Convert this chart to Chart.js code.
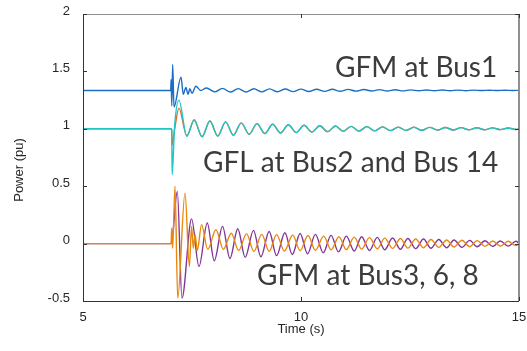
<!DOCTYPE html>
<html>
<head>
<meta charset="utf-8">
<script src="https://cdn.jsdelivr.net/npm/chart.js@4.4.0/dist/chart.umd.min.js"></script>
<style>
  html, body { margin: 0; padding: 0; background: #fff; }
  #wrap { width: 527px; height: 351px; }
</style>
</head>
<body>
<div id="wrap"><canvas id="powerChart" width="527" height="351"></canvas></div>
<script>
// time axis (s) and power axis (pu) ticks
const xTicks = [5, 10, 15];
const yTicks = [-0.5, 0, 0.5, 1, 1.5, 2];

// [time s, power pu] samples at each swing peak/trough
const bus1 = [
  [5, 1.333], [7.01, 1.333], [7.022, 1.43], [7.036, 1.20], [7.057, 1.56], [7.087, 1.19],
  [7.248, 1.45], [7.30, 1.30], [7.36, 1.36], [7.41, 1.30], [7.45, 1.35], [7.50, 1.31],
  [7.59, 1.37], [7.70, 1.333], [7.83, 1.356],
  [8.02, 1.322], [8.20, 1.352], [8.38, 1.320], [8.56, 1.350], [8.74, 1.321], [8.92, 1.349],
  [9.10, 1.322], [9.28, 1.348], [9.46, 1.323], [9.64, 1.347], [9.82, 1.324], [10.00, 1.346],
  [10.18, 1.325], [10.36, 1.345], [10.54, 1.326], [10.72, 1.344], [10.90, 1.327], [11.08, 1.343],
  [11.26, 1.328], [11.44, 1.342], [11.62, 1.329], [11.80, 1.341], [11.98, 1.329], [12.16, 1.340],
  [12.34, 1.330], [12.52, 1.339], [12.70, 1.331], [12.88, 1.338], [13.06, 1.331], [13.24, 1.338],
  [13.42, 1.332], [13.60, 1.337], [13.78, 1.332], [13.96, 1.337], [14.14, 1.333], [14.32, 1.336],
  [14.50, 1.333], [14.68, 1.336], [14.86, 1.334], [15, 1.335]
];

// GFL units share the same slow swing after the first half second
const gflTail = [
  [7.91, 1.068], [8.09, 0.937], [8.27, 1.060], [8.45, 0.944], [8.63, 1.052], [8.81, 0.952],
  [8.99, 1.045], [9.17, 0.958], [9.35, 1.040], [9.53, 0.963], [9.71, 1.035], [9.89, 0.967],
  [10.07, 1.031], [10.25, 0.971], [10.43, 1.027], [10.61, 0.975], [10.79, 1.024], [10.97, 0.978],
  [11.15, 1.021], [11.33, 0.980], [11.51, 1.019], [11.69, 0.982], [11.87, 1.017], [12.05, 0.984],
  [12.23, 1.015], [12.41, 0.986], [12.59, 1.013], [12.77, 0.987], [12.95, 1.012], [13.13, 0.989],
  [13.31, 1.011], [13.49, 0.990], [13.67, 1.010], [13.85, 0.991], [14.03, 1.009], [14.21, 0.992],
  [14.39, 1.008], [14.57, 0.993], [14.75, 1.007], [14.93, 0.994], [15, 1.0]
];
const bus2 = [
  [5, 1], [7.02, 1], [7.034, 0.99], [7.045, 0.86], [7.10, 0.99], [7.20, 1.18],
  [7.38, 0.94], [7.55, 1.075], [7.73, 0.932]
].concat(gflTail);
const bus14 = [
  [5, 1], [7.02, 1], [7.034, 0.99], [7.045, 0.60], [7.10, 1.02], [7.20, 1.25],
  [7.38, 0.935], [7.55, 1.08], [7.73, 0.93]
].concat(gflTail);

const bus3 = [
  [5, 0], [7.02, 0], [7.05, 0.05], [7.163, 0.455], [7.27, -0.475], [7.49, 0.215],
  [7.66, -0.20], [7.85, 0.18], [8.01, -0.15], [8.20, 0.15], [8.37, -0.13], [8.55, 0.13],
  [8.72, -0.12], [8.91, 0.115], [9.08, -0.115], [9.27, 0.105], [9.44, -0.105], [9.63, 0.095],
  [9.80, -0.095], [9.98, 0.088], [10.15, -0.088], [10.33, 0.08], [10.51, -0.08], [10.69, 0.072],
  [10.86, -0.072], [11.04, 0.065], [11.22, -0.065], [11.39, 0.06], [11.57, -0.06], [11.75, 0.054],
  [11.92, -0.054], [12.10, 0.049], [12.28, -0.049], [12.45, 0.044], [12.63, -0.044], [12.81, 0.04],
  [12.98, -0.04], [13.16, 0.036], [13.34, -0.036], [13.51, 0.032], [13.69, -0.032], [13.87, 0.028],
  [14.04, -0.028], [14.22, 0.025], [14.40, -0.025], [14.57, 0.022], [14.75, -0.022], [14.93, 0.02],
  [15, 0.005]
];

const bus8 = [
  [5, 0], [7.02, 0], [7.034, 0.135], [7.057, -0.04], [7.11, 0.50], [7.172, -0.475],
  [7.34, 0.44], [7.44, -0.20], [7.49, 0.15], [7.53, -0.04], [7.57, 0.08], [7.62, -0.06],
  [7.72, 0.165], [7.86, -0.05], [8.05, 0.12], [8.22, -0.05], [8.40, 0.09], [8.57, -0.06],
  [8.75, 0.085], [8.92, -0.068], [9.10, 0.08], [9.27, -0.068], [9.44, 0.078], [9.62, -0.065],
  [9.81, 0.074], [9.98, -0.062], [10.16, 0.07], [10.33, -0.058], [10.52, 0.065], [10.69, -0.055],
  [10.87, 0.06], [11.04, -0.052], [11.22, 0.056], [11.39, -0.048], [11.57, 0.052], [11.75, -0.045],
  [11.92, 0.048], [12.10, -0.042], [12.28, 0.044], [12.45, -0.039], [12.63, 0.04], [12.81, -0.036],
  [12.98, 0.036], [13.16, -0.033], [13.34, 0.032], [13.51, -0.03], [13.69, 0.029], [13.87, -0.027],
  [14.04, 0.026], [14.22, -0.024], [14.40, 0.023], [14.57, -0.021], [14.75, 0.02], [14.93, -0.018],
  [15, 0]
];

const labels = [
  { text: 'GFM at Bus1', x: 335, y: 77 },
  { text: 'GFL at Bus2 and Bus 14', x: 203, y: 172 },
  { text: 'GFM at Bus3, 6, 8', x: 257, y: 285 }
];

const toXY = arr => arr.map(p => ({ x: p[0], y: p[1] }));

function line(data, color) {
  return {
    data: toXY(data),
    borderColor: color,
    borderWidth: 1.4,
    pointRadius: 0,
    fill: false,
    cubicInterpolationMode: 'monotone'
  };
}

// box with inward ticks, y title and the in-plot captions
const framePlugin = {
  id: 'frame',
  afterDatasetsDraw(chart) {
    const { ctx, chartArea: a, scales } = chart;
    const xs = scales.x, ys = scales.y;
    ctx.save();
    ctx.lineCap = 'butt';
    // top and right edges
    ctx.strokeStyle = '#8f8f8f';
    ctx.lineWidth = 1;
    ctx.beginPath();
    ctx.moveTo(a.left, a.top + 0.5);
    ctx.lineTo(a.right, a.top + 0.5);
    ctx.stroke();
    ctx.lineWidth = 2;
    ctx.beginPath();
    ctx.moveTo(a.right, a.top);
    ctx.lineTo(a.right, a.bottom);
    ctx.stroke();
    // left and bottom edges
    ctx.strokeStyle = '#333';
    ctx.lineWidth = 1;
    ctx.beginPath();
    ctx.moveTo(a.left + 0.5, a.top);
    ctx.lineTo(a.left + 0.5, a.bottom + 0.5);
    ctx.lineTo(a.right, a.bottom + 0.5);
    ctx.stroke();
    // tick marks pointing into the plot
    ctx.beginPath();
    yTicks.forEach(v => {
      const py = Math.round(ys.getPixelForValue(v)) + 0.5;
      ctx.moveTo(a.left, py); ctx.lineTo(a.left + 4, py);
      ctx.moveTo(a.right, py); ctx.lineTo(a.right - 4, py);
    });
    xTicks.forEach(v => {
      const px = Math.round(xs.getPixelForValue(v)) + 0.5;
      ctx.moveTo(px, a.bottom); ctx.lineTo(px, a.bottom - 4);
      ctx.moveTo(px, a.top); ctx.lineTo(px, a.top + 4);
    });
    ctx.stroke();

    // captions
    ctx.fillStyle = '#3c3c3c';
    ctx.font = '28px Lato';
    ctx.textAlign = 'left';
    ctx.textBaseline = 'alphabetic';
    labels.forEach(l => ctx.fillText(l.text, l.x, l.y));

    // y axis title
    ctx.font = '13px "Liberation Sans"';
    ctx.fillStyle = '#262626';
    ctx.translate(19, 170);
    ctx.rotate(-Math.PI / 2);
    ctx.textAlign = 'center';
    ctx.textBaseline = 'middle';
    ctx.fillText('Power (pu)', 0, 0);
    ctx.restore();
  }
};

const tickFont = { family: 'Liberation Sans', size: 13 };

const chart = new Chart(document.getElementById('powerChart'), {
  type: 'line',
  data: {
    datasets: [
      line(bus8, '#e8890f'),
      line(bus3, '#833596'),
      line(bus14, '#1fc6c6'),
      line(bus2, '#dc6a2e'),
      line(bus1, '#1a6fc4')
    ]
  },
  options: {
    responsive: false,
    animation: false,
    devicePixelRatio: 1,
    layout: { padding: { top: 14, right: 8, left: 0, bottom: 0 } },
    plugins: { legend: { display: false }, tooltip: { enabled: false } },
    scales: {
      x: {
        type: 'linear',
        min: 5, max: 15,
        afterFit: s => { s.height = 50; s.paddingLeft = 0; s.paddingRight = 0; },
        afterBuildTicks: s => { s.ticks = xTicks.map(v => ({ value: v })); },
        grid: { display: false, drawTicks: false },
        border: { display: false },
        ticks: { padding: 9, color: '#262626', font: tickFont, callback: v => String(v) },
        title: { display: true, text: 'Time (s)', color: '#262626', padding: { top: 0, bottom: 14 }, font: tickFont }
      },
      y: {
        min: -0.5, max: 2,
        afterFit: s => { s.width = 83; s.paddingTop = 0; s.paddingBottom = 0; },
        afterBuildTicks: s => { s.ticks = yTicks.map(v => ({ value: v })); },
        grid: { display: false, drawTicks: false },
        border: { display: false },
        ticks: { padding: 13, labelOffset: -3, color: '#262626', font: tickFont, callback: v => String(v) }
      }
    }
  },
  plugins: [framePlugin]
});
</script>
</body>
</html>
